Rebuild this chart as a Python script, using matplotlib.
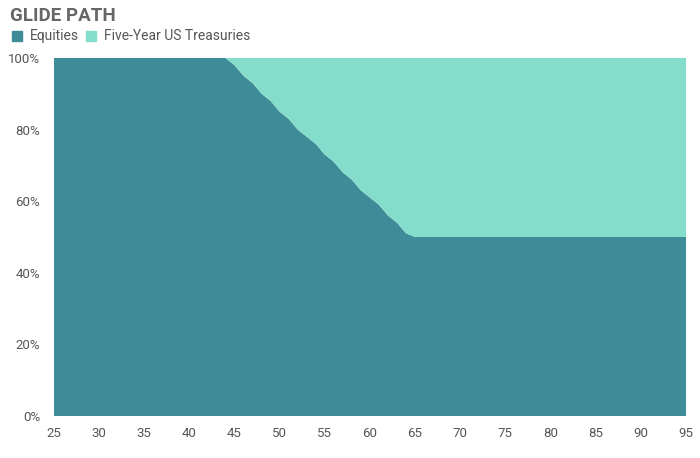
import matplotlib
matplotlib.use("Agg")
import matplotlib.pyplot as plt
from matplotlib.patches import Rectangle

ages = list(range(25, 96))
equity_glide = [98, 95, 93, 90, 88, 85, 83, 80, 78, 76, 73, 71, 68, 66, 63, 61, 59, 56, 54, 51]
equities = [100] * (45 - 25) + equity_glide + [50] * (95 - 65 + 1)
treasuries = [100 - e for e in equities]

series_names = ["Equities", "Five-Year US Treasuries"]
colors = ["#3D8C97", "#84DCCA"]
x_ticks = list(range(25, 96, 5))
y_ticks = [0, 20, 40, 60, 80, 100]

fam = ["Roboto", "DejaVu Sans"]
plt.rcParams["font.family"] = fam

fig = plt.figure(figsize=(7, 4.58), dpi=100)
ax = fig.add_axes([0.077, 0.0917, 0.903, 0.7817])
ax.stackplot(ages, equities, treasuries, colors=colors, linewidth=0)
ax.set_xlim(25, 95)
ax.set_ylim(0, 100)
ax.set_xticks(x_ticks)
ax.set_yticks(y_ticks)
ax.set_yticklabels([f"{v}%" for v in y_ticks])
for s in ax.spines.values():
    s.set_visible(False)
ax.tick_params(length=0, colors="#555555", labelsize=9.5)
ax.tick_params(axis="x", pad=8)
ax.tick_params(axis="y", pad=10)

fig.text(0.014, 0.965, "GLIDE PATH", fontsize=13.5, fontweight="bold", color="#666666",
         va="center", ha="left")
# legend
fig.patches.append(Rectangle((12 / 700, 1 - 41 / 458), 10 / 700, 10 / 458,
                             transform=fig.transFigure, color=colors[0]))
fig.text(30 / 700, 1 - 36 / 458, series_names[0], fontsize=10, color="#555555",
         va="center", ha="left")
fig.patches.append(Rectangle((86 / 700, 1 - 41 / 458), 10 / 700, 10 / 458,
                             transform=fig.transFigure, color=colors[1]))
fig.text(104 / 700, 1 - 36 / 458, series_names[1], fontsize=10, color="#555555",
         va="center", ha="left")

fig.savefig("out.png", dpi=100)
